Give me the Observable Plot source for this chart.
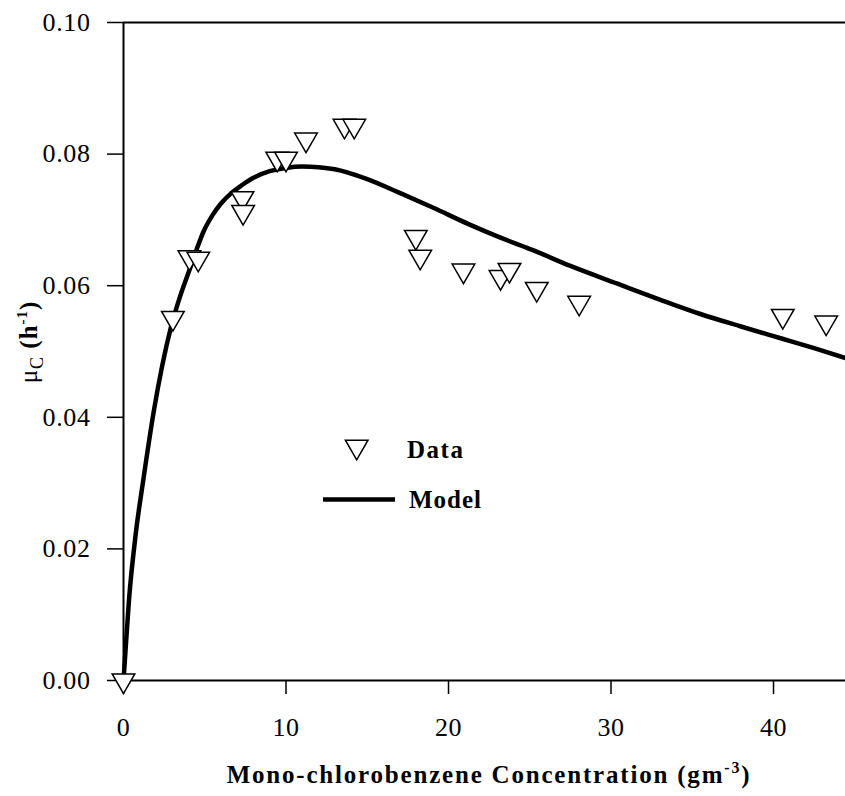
<!DOCTYPE html>
<html><head><meta charset="utf-8">
<script src="https://cdn.jsdelivr.net/npm/d3@7"></script>
<script src="https://cdn.jsdelivr.net/npm/@observablehq/plot@0.6"></script>
<style>body{margin:0;background:#fff} svg{display:block}</style>
</head><body><div id="chart"></div>
<script>
// Measured data (mono-chlorobenzene concentration, specific growth rate)
const dataConc = [0, 3.04, 4.06, 4.6, 7.32, 7.36, 9.46, 10.0, 11.23, 13.6, 14.2, 17.99, 18.26, 20.92, 23.2, 23.75, 25.43, 28.04, 40.57, 43.24];
const dataMu   = [0, 0.0551, 0.0643, 0.0641, 0.0733, 0.0712, 0.0793, 0.0793, 0.0822, 0.0843, 0.0843, 0.0674, 0.0644, 0.0623, 0.0613, 0.0624, 0.0595, 0.0574, 0.0554, 0.0544];
// Model curve
const modelConc = [0, 0.12, 0.33, 0.74, 1.25, 1.87, 2.9, 3.5, 4.12, 4.5, 4.92, 5.5, 6.0, 6.6, 7.3, 8.0, 9.0, 10.0, 11.0, 12.0, 13.0, 15.0, 17.0, 19.1, 21.2, 23.2, 25.2, 27.5, 30.4, 33.0, 35.5, 38.0, 40.6, 42.5, 44.43];
const modelMu   = [0, 0.0044, 0.012, 0.022, 0.031, 0.041, 0.0535, 0.0585, 0.0628, 0.0655, 0.0682, 0.0708, 0.0725, 0.0740, 0.0753, 0.0764, 0.0774, 0.0779, 0.0781, 0.0780, 0.0777, 0.0762, 0.0741, 0.0718, 0.0694, 0.0673, 0.0654, 0.0630, 0.0603, 0.0579, 0.0557, 0.0538, 0.0519, 0.0505, 0.0490];
const xTicks = [0, 10, 20, 30, 40];
const yTicks = [0, 0.02, 0.04, 0.06, 0.08, 0.10];
const legendLabels = ["Data", "Model"];

const data = dataConc.map((c, i) => ({x: c, y: dataMu[i]}));
const model = modelConc.map((c, i) => ({x: c, y: modelMu[i]}));

const FONT = "'Liberation Serif', 'Times New Roman', serif";

const chart = Plot.plot({
  width: 845, height: 796,
  marginLeft: 123, marginRight: 0, marginTop: 22, marginBottom: 116,
  style: {fontFamily: FONT, fontSize: "26px", color: "black", background: "white", overflow: "visible", letterSpacing: "0.6px"},
  x: {domain: [0, 44.43], label: null},
  y: {domain: [0, 0.10], label: null},
  marks: [
    Plot.axisX(xTicks, {tickSize: 14, tickPadding: 23, tickFormat: d => String(d), label: null, strokeWidth: 1.5, fontSize: 26}),
    Plot.axisY(yTicks, {tickSize: 16, tickPadding: 17, tickFormat: d3.format(".2f"), label: null, strokeWidth: 1.5, fontSize: 26}),
    Plot.ruleX([0], {stroke: "black", strokeWidth: 2}),
    Plot.ruleY([0, 0.10], {stroke: "black", strokeWidth: 2}),
    Plot.line(model, {x: "x", y: "y", stroke: "black", strokeWidth: 4.5, curve: "monotone-x"}),
    Plot.dot(data, {x: "x", y: "y", symbol: "triangle", rotate: 180, r: 8.4, fill: "white", stroke: "black", strokeWidth: 1.5})
  ]
});

document.getElementById("chart").appendChild(chart);
const svg = d3.select(chart);

// Y axis label: μC (h-1)
const yl = svg.append("text")
  .attr("transform", "translate(37,342) rotate(-90)")
  .attr("text-anchor", "middle")
  .attr("font-family", FONT)
  .attr("font-size", 25)
  .attr("letter-spacing", "1px")
  .attr("fill", "black");
yl.append("tspan").text("μ");
yl.append("tspan").attr("font-size", 18).attr("dy", 6).text("C");
yl.append("tspan").attr("font-weight", "bold").attr("dy", -6).text(" (h");
yl.append("tspan").attr("font-weight", "bold").attr("font-size", 15).attr("dy", -10).text("-1");
yl.append("tspan").attr("font-weight", "bold").attr("dy", 10).text(")");

// X axis label
const xl = svg.append("text")
  .attr("x", 489).attr("y", 783)
  .attr("text-anchor", "middle")
  .attr("font-family", FONT)
  .attr("font-weight", "bold")
  .attr("font-size", 25)
  .attr("letter-spacing", "1.8px")
  .attr("fill", "black");
xl.append("tspan").text("Mono-chlorobenzene Concentration (gm");
xl.append("tspan").attr("font-size", 16).attr("dy", -10).text("-3");
xl.append("tspan").attr("dy", 10).text(")");

// Legend
const tri = d3.symbol(d3.symbolTriangle, Math.PI * 8.4 * 8.4)();
svg.append("path").attr("d", tri)
  .attr("transform", "translate(356.7,446.7) rotate(180)")
  .attr("fill", "white").attr("stroke", "black").attr("stroke-width", 1.5);
svg.append("text").attr("x", 407).attr("y", 458)
  .attr("text-anchor", "start")
  .attr("font-family", FONT).attr("font-weight", "bold").attr("font-size", 25)
  .attr("letter-spacing", "1.5px")
  .text(legendLabels[0]);
svg.append("line").attr("x1", 323).attr("x2", 395).attr("y1", 499.5).attr("y2", 499.5)
  .attr("stroke", "black").attr("stroke-width", 4.5);
svg.append("text").attr("x", 409).attr("y", 508)
  .attr("text-anchor", "start")
  .attr("font-family", FONT).attr("font-weight", "bold").attr("font-size", 25)
  .attr("letter-spacing", "1px")
  .text(legendLabels[1]);
</script>
</body></html>
